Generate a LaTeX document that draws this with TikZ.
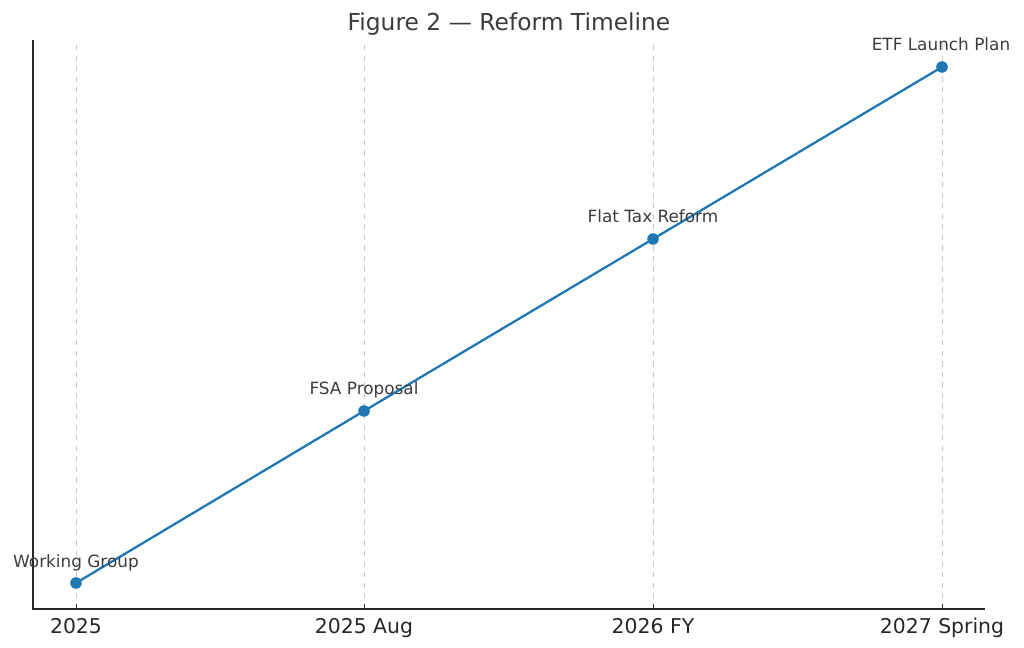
\documentclass[tikz,border=0pt]{standalone}
\usepackage{fontspec}
\setmainfont{DejaVu Sans}
\definecolor{lineblue}{RGB}{31,119,180}
\definecolor{txtgray}{RGB}{60,60,60}
\definecolor{gridgray}{RGB}{200,200,200}
\begin{document}
\begin{tikzpicture}[x=0.02cm, y=-0.02cm]
\tikzset{ >=latex, inner sep=0pt, outer sep=0pt,
  dot/.style={fill=lineblue, circle, minimum size=6.6pt},
  note/.style={text=txtgray, anchor=base, font=\fontsize{9.6}{11}\selectfont},
  ticklab/.style={text=black!85, anchor=base, font=\fontsize{11.6}{13}\selectfont},
  gridline/.style={gridgray, dashed, line width=0.4pt},
}
\useasboundingbox (0,0) rectangle (1024,648);

%\draw [lightgray, dashed](0,0) grid (10,10);

\node [text=txtgray, anchor=base, font=\fontsize{13.3}{15}\selectfont] (title) at (509,31) {Figure 2 — Reform Timeline};

\coordinate (O) at (33,609);
\coordinate (Ytop) at (33,40);
\coordinate (Xend) at (985,609);

\foreach \x/\n in {76/a, 364/b, 653/c, 942/d} {
  \coordinate (g\n) at (\x,40);
  \coordinate (t\n) at (\x,609);
  \coordinate (u\n) at (\x,604);
  \draw [gridline] (t\n) -- (g\n);
  \draw [black!80, line width=0.5pt] (t\n) -- (u\n);
}

\draw [black!85, line width=0.6pt] (Ytop) -- (O) -- (Xend);

\node [dot] (wg)  at (76,583) {};
\node [dot] (fsa) at (364,411) {};
\node [dot] (ftr) at (653,239) {};
\node [dot] (etf) at (942,67) {};

\draw [lineblue, line width=1.3pt] (wg.center) -- (fsa.center) -- (ftr.center) -- (etf.center);

\node [note] at (76,567) {Working Group};
\node [note] at (364,395) {FSA Proposal};
\node [note] at (653,223) {Flat Tax Reform};
\node [note] at (941,51) {ETF Launch Plan};

\node [ticklab] (la) at (76,633) {2025};
\node [ticklab] (lb) at (364,633) {2025 Aug};
\node [ticklab] (lc) at (653,633) {2026 FY};
\node [ticklab] (ld) at (942,633) {2027 Spring};

\end{tikzpicture}
\end{document}
